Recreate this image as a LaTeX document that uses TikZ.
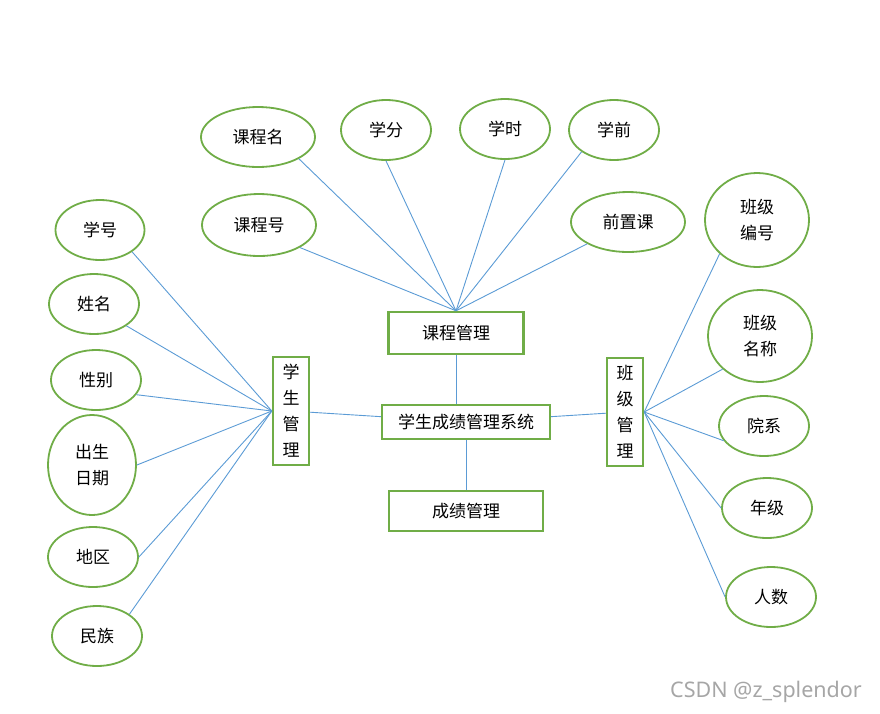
\documentclass[tikz,border=0pt]{standalone}
\usepackage{fontspec}
\setmainfont{Noto Sans CJK SC}
\newfontfamily\wmfont{Noto Sans}
\usetikzlibrary{shapes.geometric,positioning}
\definecolor{lgreen}{RGB}{112,173,71}
\definecolor{lblue}{RGB}{91,155,213}
\tikzset{every picture/.style={line width=0.75pt}}
\tikzset{
  attr/.style={ellipse, draw=lgreen, line width=1.8pt, inner sep=0pt, font=\fontsize{17}{26}\selectfont, align=center},
  ent/.style={rectangle, draw=lgreen, line width=2.4pt, inner sep=0pt, font=\fontsize{17}{26}\selectfont, align=center},
  link/.style={draw=lblue, line width=0.9pt}
}

\begin{document}
\begin{tikzpicture}[x=1pt, y=-1pt]
    \useasboundingbox (0,0) rectangle (880,713);

    % 实体
    \node[ent, minimum width=135, minimum height=42] (kcgl) at (456,333) {课程管理};
    \node[ent, minimum width=168, minimum height=34] (xtong) at (466,422) {学生成绩管理系统};
    \node[ent, minimum width=154, minimum height=40] (cjgl) at (466,511) {成绩管理};
    \node[ent, minimum width=36, minimum height=108] (xsgl) at (291,411) {学\\生\\管\\理};
    \node[ent, minimum width=36, minimum height=108] (bjgl) at (625,412) {班\\级\\管\\理};

    % 课程属性
    \node[attr, minimum width=114, minimum height=60] (kcm) at (258,137) {课程名};
    \node[attr, minimum width=90, minimum height=60] (xf) at (386,130) {学分};
    \node[attr, minimum width=90, minimum height=60] (xshi) at (505,129) {学时};
    \node[attr, minimum width=90, minimum height=60] (xq) at (614,130) {学前};
    \node[attr, minimum width=114, minimum height=62] (kch) at (259,225) {课程号};
    \node[attr, minimum width=114, minimum height=60] (qzk) at (628,222) {前置课};

    % 学生属性
    \node[attr, minimum width=89, minimum height=60] (xh) at (100,230) {学号};
    \node[attr, minimum width=90, minimum height=60] (xm) at (94,304) {姓名};
    \node[attr, minimum width=90, minimum height=60] (xb) at (96,380) {性别};
    \node[attr, minimum width=88, minimum height=100] (csrq) at (92,465) {出生\\日期};
    \node[attr, minimum width=90, minimum height=60] (dq) at (93,557) {地区};
    \node[attr, minimum width=90, minimum height=60] (mz) at (97,636) {民族};

    % 班级属性
    \node[attr, minimum width=104, minimum height=94] (bjbh) at (757,220) {班级\\编号};
    \node[attr, minimum width=104, minimum height=92] (bjmc) at (760,336) {班级\\名称};
    \node[attr, minimum width=90, minimum height=60] (yx) at (764,426) {院系};
    \node[attr, minimum width=90, minimum height=60] (nj) at (767,508) {年级};
    \node[attr, minimum width=90, minimum height=60] (rs) at (771,597) {人数};

    % 连线
    \foreach \a/\b in {kcm/south east, xf/south, xshi/south, xq/south west, kch/south east, qzk/south west}
        \draw[link] (kcgl.north) -- (\a.\b);
    \foreach \a/\b in {xh/south east, xm/south east, xb/-20, csrq/east, dq/east, mz/north east}
        \draw[link] (xsgl.west) -- (\a.\b);
    \foreach \a/\b in {bjbh/south west, bjmc/south west, yx/200, nj/west, rs/west}
        \draw[link] (bjgl.east) -- (\a.\b);
    \draw[link] (kcgl) -- (kcgl |- xtong.north);
    \draw[link] (xsgl) -- (xtong);
    \draw[link] (xtong) -- (bjgl);
    \draw[link] (xtong) -- (cjgl);

    % 水印
    \node[font=\wmfont\fontsize{21.5}{24}\selectfont, text=gray!70] (wm) at (766,692) {CSDN @z\_splendor};
\end{tikzpicture}
\end{document}
